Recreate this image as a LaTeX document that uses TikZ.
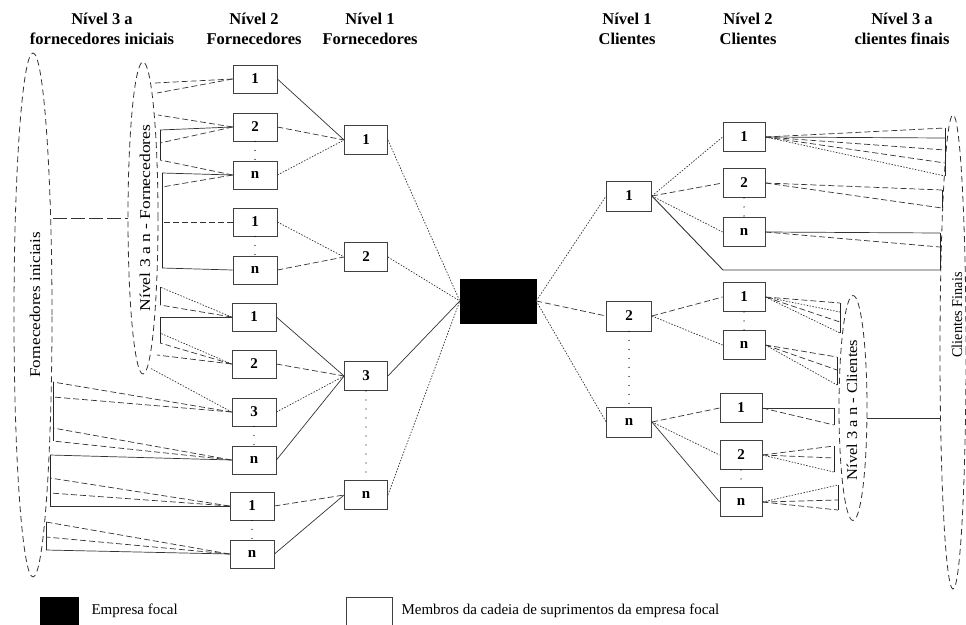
\documentclass[tikz,border=0pt]{standalone}
\usepackage{fontspec}
\setmainfont{Liberation Serif}
\usetikzlibrary{shapes.geometric}
\begin{document}
\begin{tikzpicture}[x=1pt,y=-1pt,
  member/.style={draw=black!75,line width=0.8pt,fill=white,minimum width=44pt,minimum height=28pt,inner sep=0pt,font=\fontsize{15}{15}\selectfont\bfseries},
  lone/.style={member,minimum width=43pt,minimum height=29pt},
  cone/.style={member,minimum width=45pt,minimum height=30pt},
  ctwo/.style={member,minimum width=42pt,minimum height=29pt},
  focalbox/.style={fill=black,draw=black,minimum width=76pt,minimum height=44pt,inner sep=0pt},
  grp/.style={draw=black!80,ellipse,dash pattern=on 6pt off 4pt,line width=0.8pt,inner sep=0pt},
  lsolid/.style={draw=black!80,line width=0.7pt},
  ldash/.style={draw=black!80,line width=0.7pt,dash pattern=on 6pt off 3pt},
  ldot/.style={draw=black!80,line width=0.7pt,dash pattern=on 1.5pt off 1.5pt},
  stub/.style={draw=black!85,line width=0.9pt},
  vdots/.style={draw=black,line width=1.3pt,line cap=round,dash pattern=on 0pt off 9pt},
  head/.style={align=center,font=\fontsize{16.5}{20}\selectfont\bfseries},
  grplabel/.style={rotate=90,font=\fontsize{15}{15}\selectfont},
  legtext/.style={anchor=west,font=\fontsize{15}{15}\selectfont}
]
\useasboundingbox (0,0) rectangle (966,624);

% ---------- column headings ----------
\node[head] (hA) at (102,29) {Nível 3 a\\fornecedores iniciais};
\node[head] (hB) at (254,29) {Nível 2\\Fornecedores};
\node[head] (hC) at (370,29) {Nível 1\\Fornecedores};
\node[head] (hD) at (627,29) {Nível 1\\Clientes};
\node[head] (hE) at (748,29) {Nível 2\\Clientes};
\node[head] (hF) at (902,29) {Nível 3 a\\clientes finais};

% ---------- grouping ellipses ----------
\node[grp,minimum width=38pt,minimum height=524pt] (ini) at (33,315) {};
\node[grplabel] (iniT) at (35,305) {\scalebox{1.14}[1]{Fornecedores iniciais}};
\node[grp,minimum width=30pt,minimum height=312pt] (n3f) at (143,218) {};
\node[grplabel] (n3fT) at (145,218) {\scalebox{1.17}[1]{Nível 3 a n - Fornecedores}};
\node[grp,minimum width=26pt,minimum height=474pt] (fin) at (953,352) {};
\node[grplabel] (finT) at (957,315) {\scalebox{0.95}[1]{Clientes Finais}};
\node[grp,minimum width=28pt,minimum height=225pt] (n3c) at (853,408) {};
\node[grplabel] (n3cT) at (852,410) {\scalebox{1.1}[1]{Nível 3 a n - Clientes}};

% ---------- tier 2 suppliers ----------
\node[member] (s2a1) at (255,79) {1};
\node[member] (s2a2) at (255,127) {2};
\node[member] (s2an) at (255,175) {n};
\node[member] (s2b1) at (255,222) {1};
\node[member] (s2bn) at (255,270) {n};
\node[member] (s2c1) at (254,317) {1};
\node[member] (s2c2) at (254,364) {2};
\node[member] (s2c3) at (254,412) {3};
\node[member] (s2cn) at (254,460) {n};
\node[member] (s2d1) at (252,506) {1};
\node[member] (s2dn) at (252,554) {n};

% ---------- tier 1 suppliers ----------
\node[lone] (s1a) at (366,140) {1};
\node[lone] (s1b) at (366,257) {2};
\node[lone] (s1c) at (366,376) {3};
\node[lone] (s1n) at (366,495) {n};

% ---------- focal company ----------
\node[focalbox] (focal) at (498,301) {};

% ---------- tier 1 customers ----------
\node[cone] (c1a) at (629,196) {1};
\node[cone] (c1b) at (629,316) {2};
\node[cone] (c1n) at (629,422) {n};

% ---------- tier 2 customers ----------
\node[ctwo] (c2a1) at (744,137) {1};
\node[ctwo] (c2a2) at (744,183) {2};
\node[ctwo] (c2an) at (744,232) {n};
\node[ctwo] (c2b1) at (744,297) {1};
\node[ctwo] (c2bn) at (744,345) {n};
\node[ctwo] (c2c1) at (741,408) {1};
\node[ctwo] (c2c2) at (741,455) {2};
\node[ctwo] (c2cn) at (741,502) {n};

% ---------- link ends on the grouping ellipses ----------
\foreach \nm/\px/\py in {
  f1/155/83, f2/157/93, f3/158/115, f4/160/130, f5/160/143,
  f6/160/160, f7/162/173, f8/162/187, f9/162/222, f10/162/268,
  f11/160/287, f12/160/305, f13/160/317, f14/160/333, f15/160/343,
  f16/157/355, f17/150/368,
  g1/53/382, g2/53/397, g3/53/428, g4/53/441, g5/50/455,
  g6/50/478, g7/50/493, g8/50/506, g9/46/522, g10/46/537, g11/46/550,
  j1/53/218,
  h1/945/128, h2/945/138, h3/945/150, h4/945/163, h5/945/176,
  h6/942/190, h7/942/208, h8/940/233, h9/940/247,
  k1/723/270, k2/940/270,
  p1/840/303, p2/840/312, p3/840/322, p4/840/333,
  p5/837/357, p6/837/370, p7/837/385,
  p8/834/408, p9/834/425,
  p10/834/446, p11/834/458, p12/834/472,
  p13/838/485, p14/838/500, p15/838/510,
  m1/867/418, m2/940/418}
  \coordinate (\nm) at (\px,\py);

% ---------- tier 3 suppliers to tier 2 suppliers ----------
\draw[ldash] (s2a1.west) -- (f1);
\draw[ldash] (s2a1.west) -- (f2);
\draw[ldash] (s2a2.west) -- (f3);
\draw[lsolid] (s2a2.west) -- (f4);
\draw[ldash] (s2a2.west) -- (f5);
\draw[ldash] (s2an.west) -- (f6);
\draw[lsolid] (s2an.west) -- (f7);
\draw[ldash] (s2an.west) -- (f8);
\draw[ldash] (s2b1.west) -- (f9);
\draw[lsolid] (s2bn.west) -- (f10);
\draw[ldot] (s2c1.west) -- (f11);
\draw[ldash] (s2c1.west) -- (f12);
\draw[lsolid] (s2c1.west) -- (f13);
\draw[ldot] (s2c2.west) -- (f14);
\draw[ldash] (s2c2.west) -- (f15);
\draw[ldash] (s2c2.west) -- (f16);
\draw[ldot] (s2c3.west) -- (f17);
\draw[stub] (f4) -- (f6);
\draw[stub] (f7) -- (f10);
\draw[stub] (f11) -- (f12);
\draw[stub] (f13) -- (f15);

\draw[ldash] (s2c3.west) -- (g1);
\draw[ldash] (s2c3.west) -- (g2);
\draw[ldash] (s2cn.west) -- (g3);
\draw[ldash] (s2cn.west) -- (g4);
\draw[lsolid] (s2cn.west) -- (g5);
\draw[ldash] (s2d1.west) -- (g6);
\draw[ldash] (s2d1.west) -- (g7);
\draw[lsolid] (s2d1.west) -- (g8);
\draw[ldash] (s2dn.west) -- (g9);
\draw[ldash] (s2dn.west) -- (g10);
\draw[lsolid] (s2dn.west) -- (g11);
\draw[stub] (g1) -- (g4);
\draw[stub] (g5) -- (g8);
\draw[stub] (g9) -- (g11);

% initial suppliers to tier 3 group
\draw[dash pattern=on 14pt off 4pt,draw=black!80,line width=0.7pt] (j1) -- (n3f.west);

% ---------- tier 2 to tier 1 suppliers ----------
\draw[lsolid] (s2a1.east) -- (s1a.west);
\draw[ldash] (s2a2.east) -- (s1a.west);
\draw[ldot] (s2an.east) -- (s1a.west);
\draw[ldot] (s2b1.east) -- (s1b.west);
\draw[ldash] (s2bn.east) -- (s1b.west);
\draw[lsolid] (s2c1.east) -- (s1c.west);
\draw[ldash] (s2c2.east) -- (s1c.west);
\draw[ldot] (s2c3.east) -- (s1c.west);
\draw[lsolid] (s2cn.east) -- (s1c.west);
\draw[ldash] (s2d1.east) -- (s1n.west);
\draw[lsolid] (s2dn.east) -- (s1n.west);

% ---------- tier 1 suppliers to focal company ----------
\draw[ldot] (s1a.east) -- (focal.west);
\draw[ldot] (s1b.east) -- (focal.west);
\draw[lsolid] (s1c.east) -- (focal.west);
\draw[ldot] (s1n.east) -- (focal.west);

% ---------- focal company to tier 1 customers ----------
\draw[ldot] (focal.east) -- (c1a.west);
\draw[ldash] (focal.east) -- (c1b.west);
\draw[ldot] (focal.east) -- (c1n.west);

% ---------- tier 1 to tier 2 customers ----------
\draw[ldot] (c1a.east) -- (c2a1.west);
\draw[ldash] (c1a.east) -- (c2a2.west);
\draw[ldot] (c1a.east) -- (c2an.west);
\draw[lsolid,line width=0.9pt] (c1a.east) -- (k1) -- (k2);
\draw[ldash] (c1b.east) -- (c2b1.west);
\draw[ldot] (c1b.east) -- (c2bn.west);
\draw[ldash] (c1n.east) -- (c2c1.west);
\draw[ldot] (c1n.east) -- (c2c2.west);
\draw[lsolid] (c1n.east) -- (c2cn.west);

% ---------- tier 2 customers to end customers ----------
\draw[ldash] (c2a1.east) -- (h1);
\draw[lsolid] (c2a1.east) -- (h2);
\draw[ldash] (c2a1.east) -- (h3);
\draw[ldash] (c2a1.east) -- (h4);
\draw[ldot] (c2a1.east) -- (h5);
\draw[ldash] (c2a2.east) -- (h6);
\draw[ldash] (c2a2.east) -- (h7);
\draw[lsolid] (c2an.east) -- (h8);
\draw[ldash] (c2an.east) -- (h9);
\draw[stub] (h1) -- (h5);
\draw[stub] (h6) -- (h7);
\draw[stub] (h8) -- (k2);

\draw[ldash] (c2b1.east) -- (p1);
\draw[ldot] (c2b1.east) -- (p2);
\draw[ldash] (c2b1.east) -- (p3);
\draw[ldot] (c2b1.east) -- (p4);
\draw[ldash] (c2bn.east) -- (p5);
\draw[ldash] (c2bn.east) -- (p6);
\draw[ldot] (c2bn.east) -- (p7);
\draw[lsolid] (c2c1.east) -- (p8);
\draw[ldash] (c2c1.east) -- (p9);
\draw[ldash] (c2c2.east) -- (p10);
\draw[ldash] (c2c2.east) -- (p11);
\draw[ldot] (c2c2.east) -- (p12);
\draw[ldot] (c2cn.east) -- (p13);
\draw[ldash] (c2cn.east) -- (p14);
\draw[ldash] (c2cn.east) -- (p15);
\draw[stub] (p1) -- (p4);
\draw[stub] (p5) -- (p7);
\draw[stub] (p8) -- (p9);
\draw[stub] (p10) -- (p12);
\draw[stub] (p13) -- (p15);

% tier 3 customers group to end customers
\draw[lsolid] (m1) -- (m2);

% ---------- omitted members ----------
\draw[vdots] (s2a2.south) -- (s2an.north);
\draw[vdots] (s2b1.south) -- (s2bn.north);
\draw[vdots] (s2c3.south) -- (s2cn.north);
\draw[vdots] (s2d1.south) -- (s2dn.north);
\draw[vdots] (s1c.south) -- (s1n.north);
\draw[vdots] (c1b.south) -- (c1n.north);
\draw[vdots] (c2a2.south) -- (c2an.north);
\draw[vdots] (c2b1.south) -- (c2bn.north);
\draw[vdots] (c2c2.south) -- (c2cn.north);

% ---------- legend ----------
\node[focalbox,minimum width=38pt,minimum height=28pt] (legF) at (59,611) {};
\node[legtext] (legFT) at (88,611) {Empresa focal};
\node[member,minimum width=46pt,minimum height=28pt] (legM) at (369,611) {};
\node[legtext] (legMT) at (398,611) {Membros da cadeia de suprimentos da empresa focal};
\end{tikzpicture}
\end{document}
